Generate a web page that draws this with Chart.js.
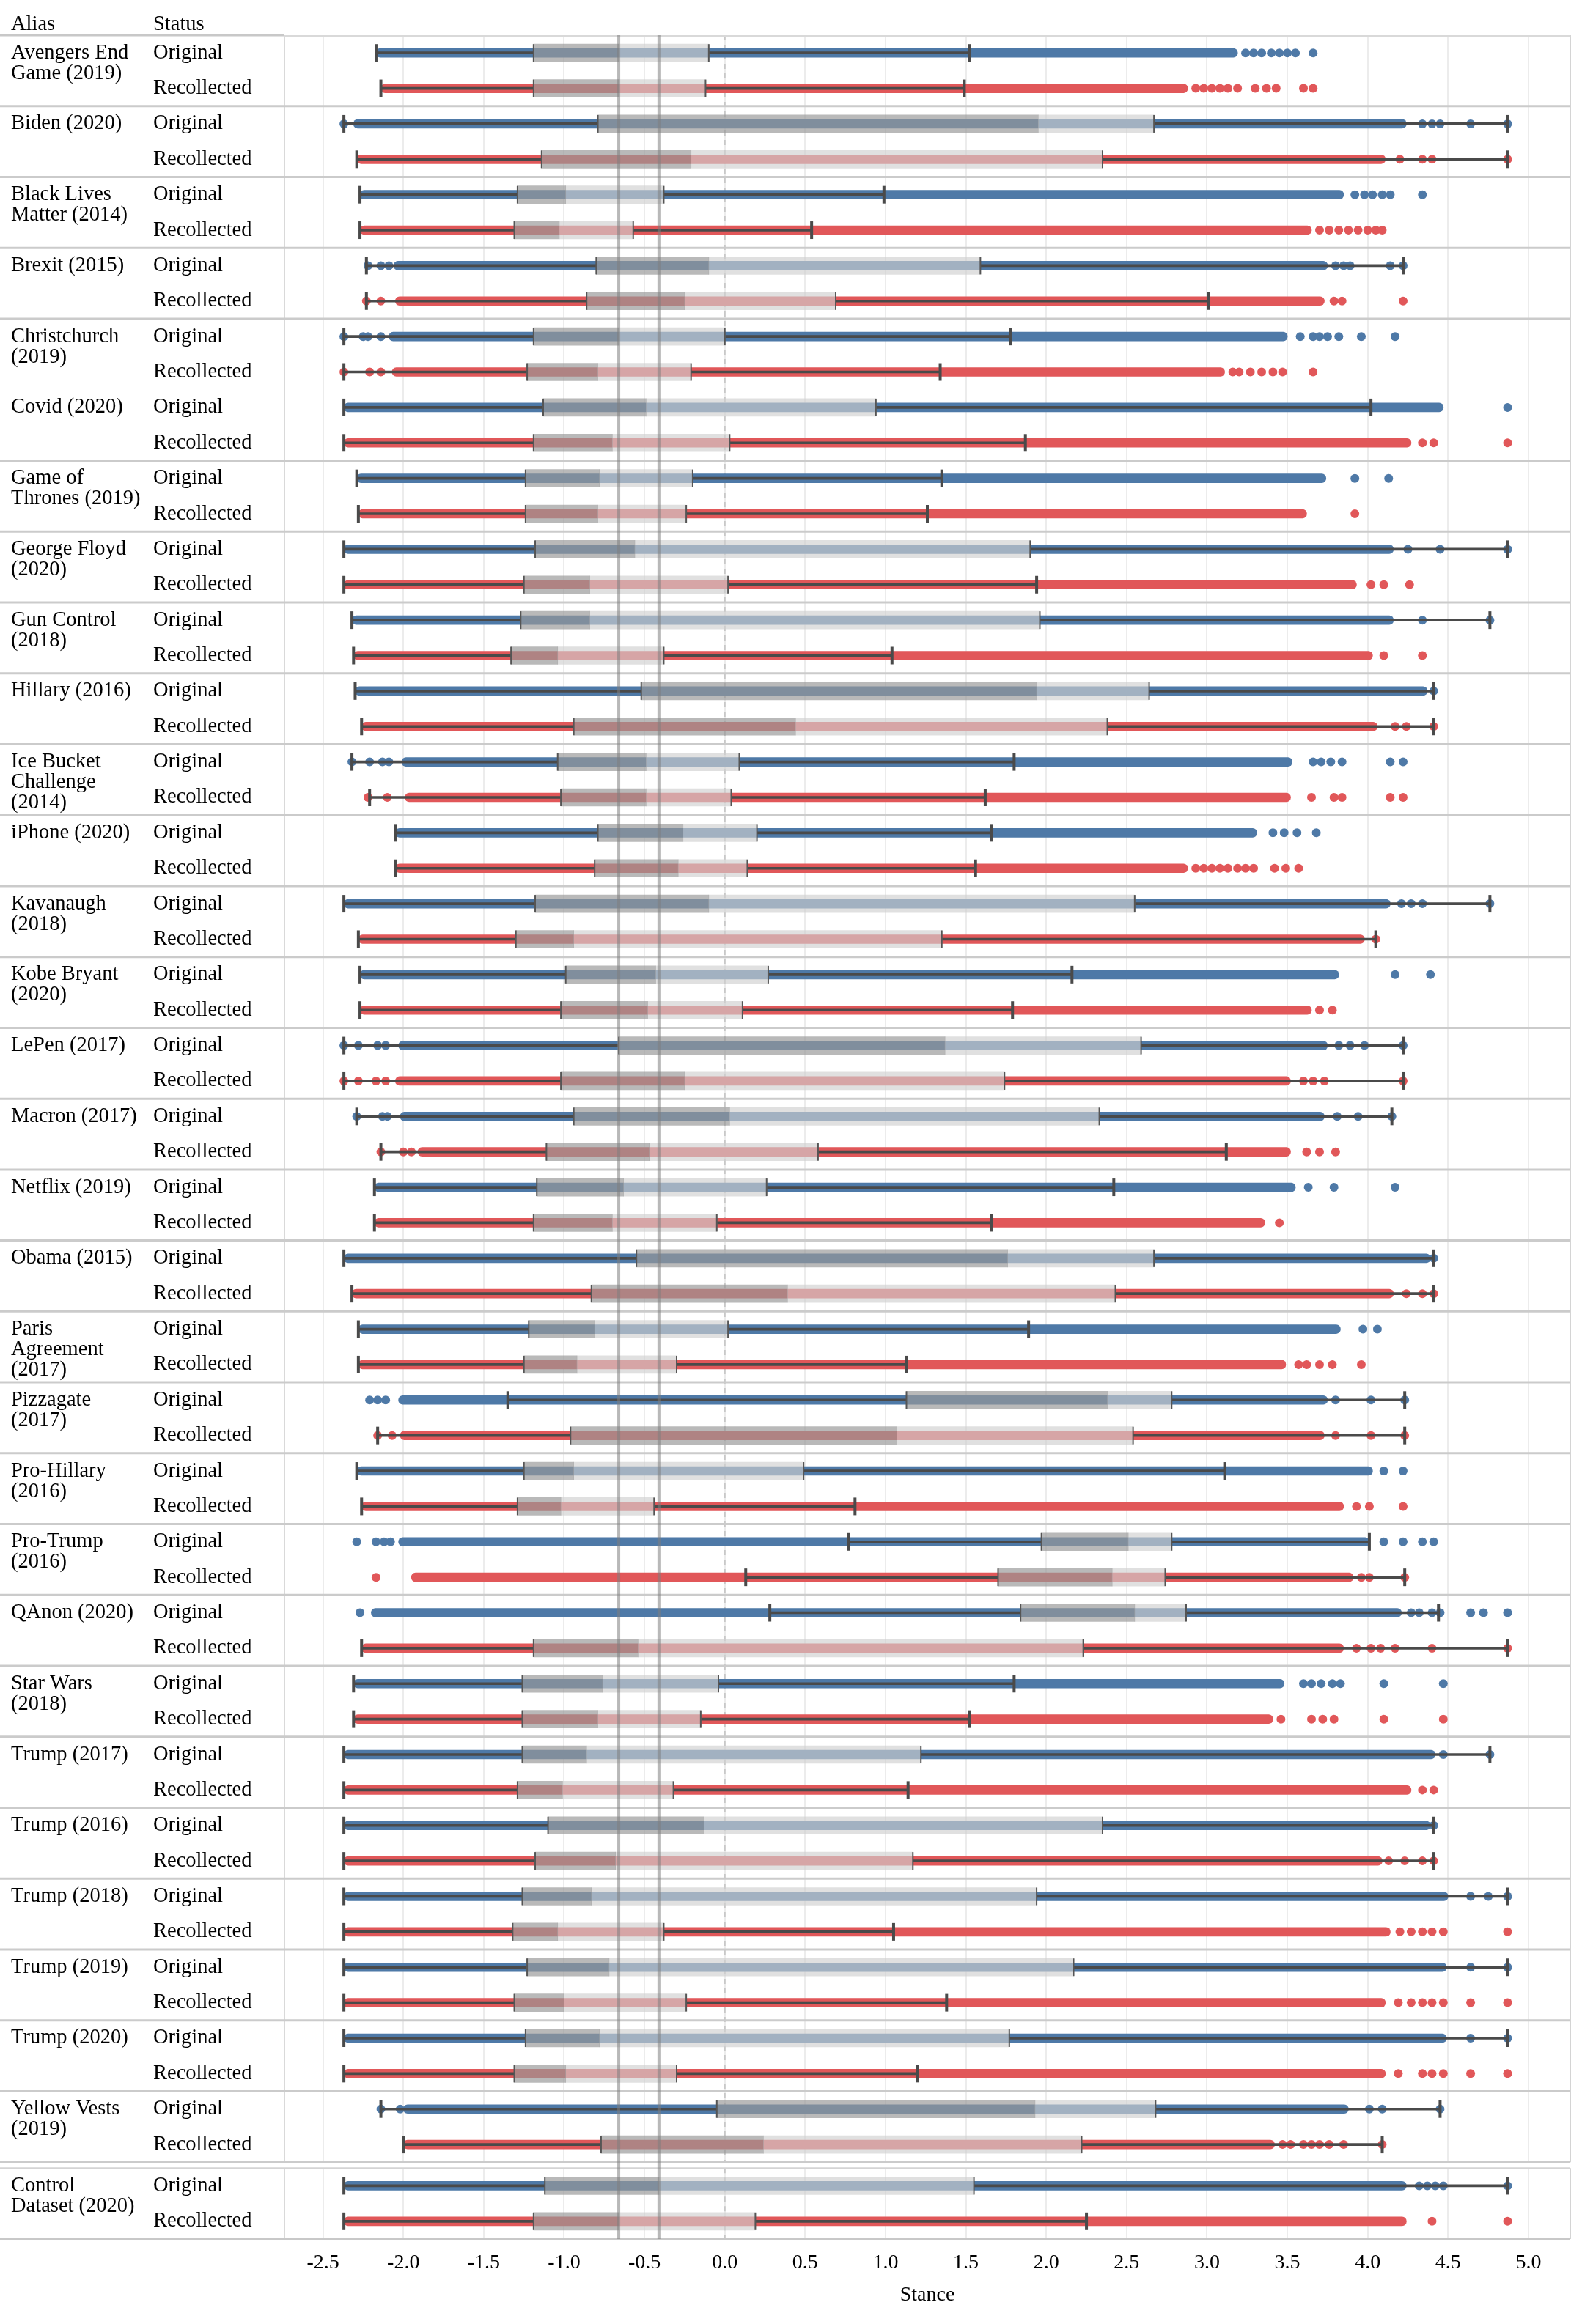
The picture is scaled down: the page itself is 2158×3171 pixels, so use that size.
<!DOCTYPE html>
<html><head><meta charset="utf-8">
<script src="https://cdn.jsdelivr.net/npm/chart.js@4.4.1/dist/chart.umd.min.js"></script>
<style>html,body{margin:0;padding:0;background:#fff}#wrap{position:relative;width:2158px;height:3171px}</style>
</head><body><div id="wrap"><canvas id="c"></canvas></div>
<script>
const aliases = [["Avengers End","Game (2019)"],["Biden (2020)"],["Black Lives","Matter (2014)"],["Brexit (2015)"],["Christchurch","(2019)"],["Covid (2020)"],["Game of","Thrones (2019)"],["George Floyd","(2020)"],["Gun Control","(2018)"],["Hillary (2016)"],["Ice Bucket","Challenge","(2014)"],["iPhone (2020)"],["Kavanaugh","(2018)"],["Kobe Bryant","(2020)"],["LePen (2017)"],["Macron (2017)"],["Netflix (2019)"],["Obama (2015)"],["Paris","Agreement","(2017)"],["Pizzagate","(2017)"],["Pro-Hillary","(2016)"],["Pro-Trump","(2016)"],["QAnon (2020)"],["Star Wars","(2018)"],["Trump (2017)"],["Trump (2016)"],["Trump (2018)"],["Trump (2019)"],["Trump (2020)"],["Yellow Vests","(2019)"],["Control","Dataset (2020)"]];
const statuses = ["Original","Recollected"];
const tickValues = [-2.5,-2.0,-1.5,-1.0,-0.5,0.0,0.5,1.0,1.5,2.0,2.5,3.0,3.5,4.0,4.5,5.0];
const refLines = [-0.66,-0.41];

// Original
const origWLo = [-2.17,-2.37,-2.27,-2.23,-2.37,-2.37,-2.29,-2.37,-2.32,-2.30,-2.32,-2.05,-2.37,-2.27,-2.37,-2.29,-2.18,-2.37,-2.28,-1.35,-2.29,0.77,0.28,-2.31,-2.37,-2.37,-2.37,-2.37,-2.37,-2.14,-2.37];
const origQ1 = [-1.19,-0.79,-1.29,-0.80,-1.19,-1.13,-1.24,-1.18,-1.27,-0.52,-1.04,-0.79,-1.18,-0.99,-0.66,-0.94,-1.17,-0.55,-1.22,1.13,-1.25,1.97,1.84,-1.26,-1.26,-1.10,-1.26,-1.23,-1.24,-0.05,-1.12];
const origMed = [-0.66,1.95,-0.99,-0.10,-0.66,-0.49,-0.78,-0.56,-0.84,1.94,-0.49,-0.26,-0.10,-0.43,1.37,0.03,-0.63,1.76,-0.81,2.38,-0.94,2.51,2.55,-0.76,-0.86,-0.13,-0.83,-0.72,-0.78,1.93,-0.41];
const origQ3 = [-0.10,2.67,-0.38,1.59,0.00,0.94,-0.20,1.90,1.96,2.64,0.09,0.20,2.55,0.27,2.59,2.33,0.26,2.67,0.02,2.78,0.49,2.78,2.87,-0.04,1.22,2.35,1.94,2.17,1.77,2.68,1.55];
const origWHi = [1.52,4.87,0.99,4.22,1.78,4.02,1.35,4.87,4.76,4.41,1.80,1.66,4.76,2.16,4.22,4.15,2.42,4.41,1.89,4.23,3.11,4.01,4.44,1.80,4.76,4.41,4.87,4.87,4.87,4.45,4.87];
const origStripLo = [-2.17,-2.31,-2.27,-2.06,-2.09,-2.37,-2.29,-2.37,-2.32,-2.30,-2.01,-2.05,-2.37,-2.27,-2.03,-2.02,-2.18,-2.37,-2.28,-2.03,-2.29,-2.03,-2.20,-2.31,-2.37,-2.37,-2.37,-2.37,-2.37,-2.00,-2.37];
const origStripHi = [3.19,4.24,3.85,3.75,3.50,4.47,3.74,4.16,4.16,4.37,3.53,3.31,4.14,3.82,3.75,3.73,3.55,4.39,3.83,3.75,4.03,4.01,4.21,3.48,4.42,4.39,4.50,4.49,4.49,3.88,4.24];
const origDotsLo = [[],[-2.37],[],[-2.22,-2.14,-2.09],[-2.37,-2.25,-2.22,-2.14],[],[],[],[],[],[-2.32,-2.21,-2.13,-2.09],[],[],[],[-2.37,-2.28,-2.16,-2.11],[-2.29,-2.13,-2.10],[],[],[],[-2.21,-2.16,-2.11],[],[-2.29,-2.17,-2.12,-2.08],[-2.27],[],[],[],[],[],[],[-2.14,-2.02],[]];
const origDotsHi = [[3.24,3.29,3.34,3.40,3.45,3.50,3.55,3.66],[4.34,4.40,4.45,4.64,4.87],[3.92,3.98,4.03,4.09,4.14,4.34],[3.80,3.85,3.89,4.14,4.22],[3.58,3.66,3.70,3.75,3.82,3.96,4.17],[4.87],[3.92,4.13],[4.25,4.45,4.87],[4.34,4.76],[4.41],[3.66,3.71,3.77,3.84,4.14,4.22],[3.41,3.48,3.56,3.68],[4.21,4.27,4.34,4.76],[4.17,4.39],[3.82,3.89,3.98,4.22],[3.81,3.94,4.15],[3.63,3.79,4.17],[4.41],[3.97,4.06],[3.80,4.02,4.23],[4.10,4.22],[4.10,4.22,4.34,4.41],[4.27,4.32,4.40,4.45,4.64,4.72,4.87],[3.60,3.65,3.71,3.78,3.83,4.10,4.47],[4.47,4.76],[4.41],[4.64,4.75,4.87],[4.64,4.87],[4.64,4.87],[4.01,4.09,4.45],[4.32,4.37,4.42,4.47,4.87]];

// Recollected
const recWLo = [-2.14,-2.29,-2.27,-2.23,-2.37,-2.37,-2.28,-2.37,-2.31,-2.26,-2.21,-2.05,-2.28,-2.27,-2.37,-2.14,-2.18,-2.32,-2.28,-2.16,-2.26,0.13,-2.26,-2.31,-2.37,-2.37,-2.37,-2.37,-2.37,-2.00,-2.37];
const recQ1 = [-1.19,-1.14,-1.31,-0.86,-1.23,-1.19,-1.24,-1.25,-1.33,-0.94,-1.02,-0.81,-1.30,-1.02,-1.02,-1.11,-1.19,-0.83,-1.25,-0.96,-1.29,1.70,-1.19,-1.26,-1.29,-1.18,-1.32,-1.31,-1.31,-0.77,-1.19];
const recMed = [-0.66,-0.21,-1.03,-0.25,-0.79,-0.70,-0.79,-0.84,-1.04,0.44,-0.49,-0.29,-0.94,-0.48,-0.25,-0.47,-0.70,0.39,-0.92,1.07,-1.02,2.41,-0.54,-0.79,-1.01,-0.68,-1.04,-1.00,-0.99,0.24,-0.66];
const recQ3 = [-0.12,2.35,-0.57,0.69,-0.21,0.03,-0.24,0.02,-0.38,2.38,0.04,0.14,1.35,0.11,1.74,0.58,-0.05,2.43,-0.30,2.54,-0.44,2.74,2.23,-0.15,-0.32,1.17,-0.38,-0.24,-0.30,2.22,0.19];
const recWHi = [1.49,4.87,0.54,3.01,1.34,1.87,1.26,1.94,1.04,4.41,1.62,1.56,4.05,1.79,4.22,3.12,1.66,4.41,1.13,4.23,0.81,4.23,4.87,1.52,1.14,4.41,1.05,1.38,1.20,4.09,2.25];
const recStripLo = [-2.14,-2.29,-2.27,-2.05,-2.07,-2.37,-2.28,-2.37,-2.31,-2.26,-1.99,-2.05,-2.28,-2.27,-2.05,-1.91,-2.18,-2.32,-2.28,-2.02,-2.26,-1.95,-2.26,-2.31,-2.37,-2.37,-2.37,-2.37,-2.37,-2.00,-2.37];
const recStripHi = [2.88,4.11,3.65,3.73,3.11,4.27,3.62,3.93,4.03,4.06,3.52,2.88,3.98,3.65,3.52,3.52,3.36,4.16,3.49,3.73,3.85,3.91,3.85,3.41,4.27,4.09,4.14,4.11,4.11,3.42,4.24];
const recDotsLo = [[],[],[],[-2.23,-2.14],[-2.37,-2.21,-2.14],[],[],[],[],[],[-2.22,-2.10],[],[],[],[-2.37,-2.28,-2.17,-2.11],[-2.14,-2.00,-1.95],[],[],[],[-2.16,-2.07],[],[-2.17],[],[],[],[],[],[],[],[],[]];
const recDotsHi = [[2.93,2.98,3.03,3.08,3.13,3.19,3.30,3.37,3.43,3.60,3.66],[4.20,4.34,4.40,4.87],[3.70,3.76,3.82,3.88,3.94,4.00,4.05,4.09],[3.79,3.84,4.22],[3.16,3.20,3.27,3.34,3.41,3.47,3.66],[4.34,4.41,4.87],[3.92],[4.02,4.10,4.26],[4.10,4.34],[4.17,4.24,4.41],[3.65,3.79,3.84,4.14,4.22],[2.93,2.98,3.03,3.08,3.13,3.19,3.24,3.29,3.42,3.49,3.57],[4.05],[3.70,3.78],[3.60,3.66,3.73,4.22],[3.62,3.70,3.80],[3.45],[4.24,4.34,4.41],[3.57,3.62,3.70,3.78,3.96],[3.80,4.02,4.23],[3.93,4.01,4.22],[3.96,4.01,4.23],[3.93,4.02,4.08,4.17,4.40,4.87],[3.46,3.65,3.72,3.79,4.10,4.47],[4.34,4.41],[4.13,4.23,4.34,4.41],[4.20,4.27,4.34,4.40,4.47,4.87],[4.19,4.27,4.34,4.40,4.47,4.64,4.87],[4.19,4.34,4.40,4.47,4.64,4.87],[3.47,3.52,3.60,3.65,3.70,3.76,3.85,4.09],[4.40,4.87]];

// ---- layout helpers (row units) ----
const SPLIT = aliases.length - 1;      // control group drawn in its own panel
const GAP = 0.165;
const noSeparatorBefore = [5];
function groupTop(g){ return g < SPLIT ? 2*g : 2*SPLIT + GAP; }
function rowPos(g, s){ return groupTop(g) + s + 0.5; }
const yMax = groupTop(SPLIT) + 2;

const FONT = '"Liberation Serif", "Times New Roman", serif';
const DARK = '#4a4a4a';

const series = [
  {color:'#4e79a7', wLo:origWLo, q1:origQ1, med:origMed, q3:origQ3, wHi:origWHi, sLo:origStripLo, sHi:origStripHi, dLo:origDotsLo, dHi:origDotsHi},
  {color:'#e15759', wLo:recWLo, q1:recQ1, med:recMed, q3:recQ3, wHi:recWHi, sLo:recStripLo, sHi:recStripHi, dLo:recDotsLo, dHi:recDotsHi}
];

const datasets = [];
series.forEach((S, s) => {
  datasets.push({type:'bar', indexAxis:'y', order:6, grouped:false, barThickness:12, borderRadius:6, borderSkipped:false,
    backgroundColor:S.color, data:S.sLo.map((v,g)=>({y:rowPos(g,s), x:[v, S.sHi[g]]}))});
  const dots = [];
  S.dLo.forEach((arr,g)=>arr.forEach(v=>dots.push({x:v, y:rowPos(g,s)})));
  S.dHi.forEach((arr,g)=>arr.forEach(v=>dots.push({x:v, y:rowPos(g,s)})));
  datasets.push({type:'scatter', order:5, data:dots, pointRadius:6, pointHoverRadius:6, pointBackgroundColor:S.color, pointBorderWidth:0, showLine:false});
  const wh = [];
  S.wLo.forEach((v,g)=>{ wh.push({y:rowPos(g,s), x:[v, S.q1[g]]}); wh.push({y:rowPos(g,s), x:[S.q3[g], S.wHi[g]]}); });
  datasets.push({type:'bar', indexAxis:'y', order:4, grouped:false, barThickness:3, backgroundColor:DARK, data:wh});
  datasets.push({type:'bar', indexAxis:'y', order:3, grouped:false, barThickness:24, backgroundColor:'rgba(152,152,152,0.68)',
    data:S.q1.map((v,g)=>({y:rowPos(g,s), x:[v, S.med[g]]}))});
  datasets.push({type:'bar', indexAxis:'y', order:3, grouped:false, barThickness:24, backgroundColor:'rgba(207,207,207,0.65)',
    data:S.med.map((v,g)=>({y:rowPos(g,s), x:[v, S.q3[g]]}))});
  const caps = [], edges = [];
  S.wLo.forEach((v,g)=>{ caps.push({x:v, y:rowPos(g,s)}); caps.push({x:S.wHi[g], y:rowPos(g,s)});
    edges.push({x:S.q1[g], y:rowPos(g,s)}); edges.push({x:S.q3[g], y:rowPos(g,s)}); });
  datasets.push({type:'scatter', order:1, data:caps, pointStyle:'line', pointRotation:90, pointRadius:12, pointHoverRadius:12, pointBorderWidth:4, pointBorderColor:DARK, showLine:false});
  datasets.push({type:'scatter', order:2, data:edges, pointStyle:'line', pointRotation:90, pointRadius:12, pointHoverRadius:12, pointBorderWidth:2, pointBorderColor:'#555', showLine:false});
});

function hline(ctx, x0, x1, y, color, w){ ctx.strokeStyle=color; ctx.lineWidth=w; ctx.beginPath(); ctx.moveTo(x0,y); ctx.lineTo(x1,y); ctx.stroke(); }
function vline(ctx, x, y0, y1, color, w){ ctx.strokeStyle=color; ctx.lineWidth=w; ctx.beginPath(); ctx.moveTo(x,y0); ctx.lineTo(x,y1); ctx.stroke(); }

const framePlugin = {
  id:'frame',
  beforeDatasetsDraw(chart){
    const {ctx, chartArea:a, scales:{x, y}} = chart;
    ctx.save();
    const gTop = y.getPixelForValue(2*SPLIT), gBot = y.getPixelForValue(groupTop(SPLIT));
    ctx.fillStyle = '#fff'; ctx.fillRect(a.left, gTop, a.right - a.left, gBot - gTop);
    ctx.setLineDash([7,6]);
    const x0 = x.getPixelForValue(0);
    vline(ctx, x0, a.top, gTop, '#c8c8c8', 2);
    vline(ctx, x0, gBot, a.bottom, '#c8c8c8', 2);
    ctx.setLineDash([]);
    vline(ctx, a.left, a.top, gTop, '#d9d9d9', 2);
    vline(ctx, a.left, gBot, a.bottom, '#d9d9d9', 2);
    vline(ctx, a.right, a.top, gTop, '#d4d4d4', 2);
    vline(ctx, a.right, gBot, a.bottom, '#d4d4d4', 2);
    hline(ctx, 0, a.left, a.top, '#c8c8c8', 3);
    hline(ctx, a.left, a.right, a.top + 1, '#d9d9d9', 2);
    for (let g = 1; g < SPLIT; g++) {
      if (noSeparatorBefore.includes(g)) continue;
      hline(ctx, 0, a.right, y.getPixelForValue(2*g), '#cbcbcb', 3);
    }
    hline(ctx, 0, a.right, gTop, '#cbcbcb', 3);
    hline(ctx, 0, a.right, gBot, '#d4d4d4', 2);
    hline(ctx, 0, a.right, a.bottom, '#c8c8c8', 3);
    ctx.restore();
  },
  afterDatasetsDraw(chart){
    const {ctx, chartArea:a, scales:{x, y}} = chart;
    ctx.save();
    refLines.forEach(v => vline(ctx, x.getPixelForValue(v), a.top, a.bottom, 'rgba(125,125,125,0.55)', 4));
    ctx.fillStyle = '#000';
    ctx.font = '28.5px ' + FONT;
    ctx.textBaseline = 'alphabetic';
    ctx.textAlign = 'left';
    ctx.fillText('Alias', 15, a.top - 7);
    ctx.fillText('Status', 209, a.top - 7);
    aliases.forEach((lines, g) => {
      const y0 = y.getPixelForValue(rowPos(g,0)) + 7.5;
      lines.forEach((t, i) => ctx.fillText(t, 15, y0 + i*28));
      statuses.forEach((st, s) => ctx.fillText(st, 209, y.getPixelForValue(rowPos(g,s)) + 7.5));
    });
    ctx.restore();
  }
};

new Chart(document.getElementById('c'), {
  type:'bar',
  data:{datasets},
  options:{
    responsive:true, maintainAspectRatio:false, animation:false,
    layout:{padding:{left:388, right:14, top:48, bottom:0}},
    plugins:{legend:{display:false}, tooltip:{enabled:false}},
    events:[],
    scales:{
      x:{type:'linear', min:-2.74, max:5.26, offset:false,
        afterBuildTicks:(s)=>{ s.ticks = tickValues.map(v=>({value:v})); },
        afterFit:(s)=>{ s.height = 116; },
        grid:{color:'#ececec', lineWidth:2, drawTicks:false, offset:false},
        border:{display:false},
        ticks:{autoSkip:false, maxRotation:0, padding:16, color:'#000', font:{family:FONT, size:28}, callback:(v)=>Number(v).toFixed(1)},
        title:{display:true, text:'Stance', color:'#000', font:{family:FONT, size:28}, padding:{top:0, bottom:23}}
      },
      y:{type:'linear', reverse:true, min:0, max:yMax, display:false, offset:false, grid:{offset:false}}
    }
  },
  plugins:[framePlugin]
});
</script></body></html>
